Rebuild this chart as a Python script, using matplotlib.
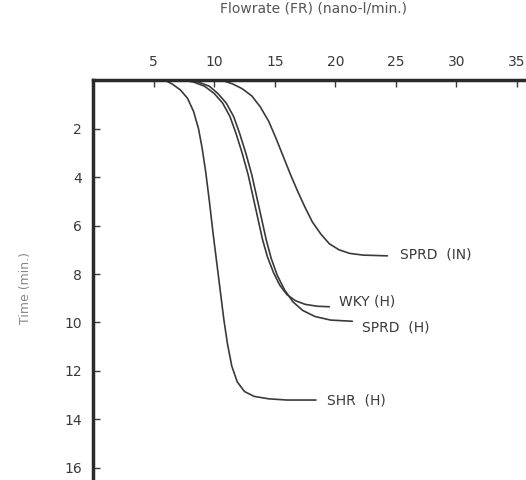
import matplotlib
matplotlib.use('Agg')
import matplotlib.pyplot as plt

# curves (x = flowrate, y = down the left axis)
shr_x = [5.9, 6.5, 7.2, 7.8, 8.3, 8.7, 9.0, 9.3, 9.6, 9.9, 10.2, 10.5, 10.8, 11.1, 11.45, 11.9,
         12.5, 13.3, 14.5, 16.0, 18.4]
shr_y = [0.0, 0.15, 0.4, 0.75, 1.3, 2.0, 2.8, 3.8, 5.0, 6.3, 7.5, 8.7, 9.9, 10.9, 11.8, 12.45,
         12.85, 13.05, 13.15, 13.2, 13.2]

wky_x = [7.4, 8.3, 9.2, 10.0, 10.7, 11.3, 11.8, 12.3, 12.8, 13.2, 13.6, 14.0, 14.4, 14.9, 15.4,
         16.0, 16.7, 17.5, 18.5, 19.5]
wky_y = [0.0, 0.08, 0.25, 0.55, 0.95, 1.5, 2.2, 3.0, 3.9, 4.8, 5.7, 6.6, 7.3, 7.95, 8.45,
         8.85, 9.1, 9.25, 9.33, 9.35]

sprdh_x = [7.8, 8.7, 9.6, 10.3, 11.0, 11.6, 12.1, 12.6, 13.1, 13.5, 13.9, 14.3, 14.7, 15.2, 15.8,
           16.5, 17.3, 18.3, 19.6, 21.4]
sprdh_y = [0.0, 0.08, 0.25, 0.55, 0.95, 1.5, 2.2, 3.0, 3.9, 4.8, 5.7, 6.6, 7.35, 8.05, 8.65,
           9.15, 9.5, 9.75, 9.9, 9.95]

sprdin_x = [10.6, 11.5, 12.3, 13.1, 13.8, 14.5, 15.1, 15.7, 16.3, 16.9, 17.5, 18.1, 18.8, 19.5,
            20.3, 21.2, 22.3, 24.3]
sprdin_y = [0.0, 0.15, 0.35, 0.65, 1.1, 1.7, 2.4, 3.15, 3.9, 4.6, 5.25, 5.85, 6.35, 6.75,
            7.0, 7.15, 7.22, 7.25]

labels = ['SPRD  (IN)', 'WKY (H)', 'SPRD  (H)', 'SHR  (H)']
label_x = [25.3, 20.3, 22.2, 19.3]
label_y = [7.2, 9.15, 10.2, 13.2]

x_ticks = [5, 10, 15, 20, 25, 30, 35]
y_ticks = [2, 4, 6, 8, 10, 12, 14, 16]

ink = '#3a3a3a'
plt.rcParams['font.family'] = 'DejaVu Sans'

fig = plt.figure(figsize=(5.26, 4.8), dpi=100)
ax = fig.add_axes([0.177, 0.0, 0.823, 0.833])

for xs, ys in [(shr_x, shr_y), (wky_x, wky_y), (sprdh_x, sprdh_y), (sprdin_x, sprdin_y)]:
    ax.plot(xs, ys, color=ink, lw=1.2, solid_capstyle='round', solid_joinstyle='round')

for lab, lx, ly in zip(labels, label_x, label_y):
    ax.text(lx, ly, lab, fontsize=10, color=ink, va='center', ha='left')

ax.set_xlim(0, 35.74)
ax.set_ylim(16.5, 0)
ax.xaxis.tick_top()
ax.set_xticks(x_ticks)
ax.set_yticks(y_ticks)
ax.tick_params(direction='in', length=5, width=1, colors=ink, labelsize=10, pad=8)
for s in ['right', 'bottom']:
    ax.spines[s].set_visible(False)
for s in ['top', 'left']:
    ax.spines[s].set_linewidth(2.5)
    ax.spines[s].set_color('#2a2a2a')

# title and y label sit at the very edge of the scan
fig.text(313 / 526, 1 - 1 / 480, 'Flowrate (FR) (nano-l/min.)', ha='center', va='top',
         fontsize=10, color='#555555')
fig.text(25 / 526, 0.40, 'Time (min.)', rotation=90, ha='center', va='center',
         fontsize=9, color='#888888')

fig.savefig('out.png', dpi=100, facecolor='white')
